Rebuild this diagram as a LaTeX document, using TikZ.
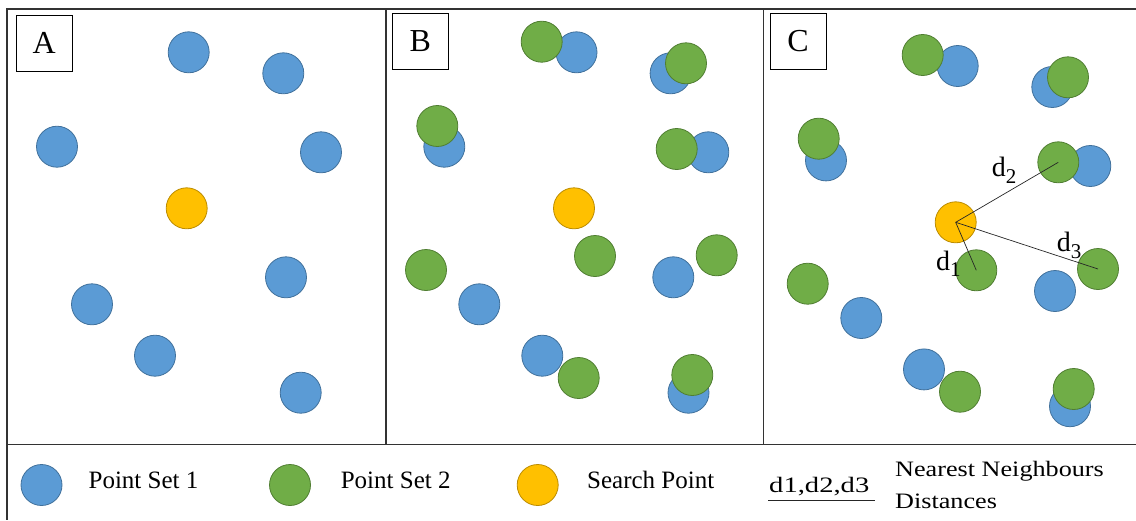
\documentclass[tikz,border=0pt]{standalone}
\usepackage{fontspec}
\setmainfont{Liberation Serif}
\definecolor{bfill}{HTML}{5B9BD5}
\definecolor{bdraw}{HTML}{41719C}
\definecolor{gfill}{HTML}{70AD47}
\definecolor{gdraw}{HTML}{507E32}
\definecolor{yfill}{HTML}{FFC000}
\definecolor{ydraw}{HTML}{BC8C00}
\newcommand{\dsubx}[1]{d\raisebox{-6.5pt}{\fontsize{21}{21}\selectfont #1}}
\begin{document}
\begin{tikzpicture}[x=1pt,y=-1pt,
  pt/.style={circle, minimum size=41pt, inner sep=0pt, line width=0.8pt},
  p1/.style={pt, fill=bfill, draw=bdraw},
  p2/.style={pt, fill=gfill, draw=gdraw},
  sp/.style={pt, fill=yfill, draw=ydraw},
  frame/.style={line width=1.3pt, draw=black!80},
  lbox/.style={draw, line width=0.8pt, minimum size=56pt, inner sep=0pt, font=\fontsize{32}{32}\selectfont},
  dist/.style={line width=0.7pt, draw=black!85},
  dlab/.style={anchor=base west, inner sep=0pt, font=\fontsize{28}{28}\selectfont},
  leg/.style={anchor=base west, inner sep=0pt, font=\fontsize{25}{25}\selectfont},
  legr/.style={anchor=base west, inner sep=0pt, font=\fontsize{22}{22}\selectfont}]
\useasboundingbox (0,0) rectangle (1136,520);
% frame
\draw[frame] (1136,9) -- (7,9) -- (7,520);
\draw[frame] (7,444.5) -- (1136,444.5);
\draw[frame] (386,9) -- (386,444.5);
\draw[frame] (763.5,9) -- (763.5,444.5);
% labels
\node[lbox] (LA) at (44.2,43) {A};
\node[lbox] (LB) at (420.3,41.3) {B};
\node[lbox] (LC) at (798,41.3) {C};
% Panel A
\node[p1] (a1) at (188.7,52.3) {};
\node[p1] (a2) at (283.3,73.3) {};
\node[p1] (a3) at (57,146.7) {};
\node[p1] (a4) at (321,152.3) {};
\node[p1] (a5) at (286,277.3) {};
\node[p1] (a6) at (92,304.3) {};
\node[p1] (a7) at (155,355.7) {};
\node[p1] (a8) at (300.7,392.7) {};
\node[sp] (ay) at (186.7,208.3) {};
% Panel B
\node[p1] (b1) at (576.5,52.3) {};
\node[p1] (b2) at (670.6,73.3) {};
\node[p1] (b3) at (444.3,146.7) {};
\node[p1] (b4) at (708.3,152.3) {};
\node[p1] (b5) at (673.3,277.3) {};
\node[p1] (b6) at (479.3,304.3) {};
\node[p1] (b7) at (542.3,355.7) {};
\node[p1] (b8) at (688.5,392.7) {};
\node[p2] (bg1) at (541.7,41.7) {};
\node[p2] (bg2) at (686,63.3) {};
\node[p2] (bg3) at (437.3,126) {};
\node[p2] (bg4) at (676.7,149) {};
\node[p2] (bg5) at (595,256) {};
\node[p2] (bg6) at (716.7,255.3) {};
\node[p2] (bg7) at (426,270) {};
\node[p2] (bg8) at (578.7,378) {};
\node[p2] (bg9) at (692.3,375) {};
\node[sp] (by) at (574,208.3) {};
% Panel C
\node[p1] (c1) at (957.7,66) {};
\node[p1] (c2) at (1052.3,87) {};
\node[p1] (c3) at (826,160.4) {};
\node[p1] (c4) at (1090.3,166) {};
\node[p1] (c5) at (1055,291) {};
\node[p1] (c6) at (861.3,318) {};
\node[p1] (c7) at (924,369.4) {};
\node[p1] (c8) at (1070,406.2) {};
\node[p2] (cg1) at (922.7,55) {};
\node[p2] (cg2) at (1068,77.3) {};
\node[p2] (cg3) at (818.7,138.7) {};
\node[p2] (cg4) at (1058.3,162.3) {};
\node[p2] (cg5) at (976.3,270.3) {};
\node[p2] (cg6) at (1098,269) {};
\node[p2] (cg7) at (807.7,283.7) {};
\node[p2] (cg8) at (960,391.7) {};
\node[p2] (cg9) at (1073.7,389) {};
\node[sp] (cy) at (955.7,222.3) {};
% distances
\draw[dist] (cy.center) -- (cg5.center);
\draw[dist] (cy.center) -- (cg4.center);
\draw[dist] (cy.center) -- (cg6.center);
\node[dlab] (d1) at (936,270) {\dsubx{1}};
\node[dlab] (d2) at (991.7,176.7) {\dsubx{2}};
\node[dlab] (d3) at (1056.7,251.7) {\dsubx{3}};
% legend
\node[p1] (l1) at (41.5,485) {};
\node[leg] (t1) at (88.4,488.3) {Point Set 1};
\node[p2] (l2) at (290,485) {};
\node[leg] (t2) at (340.6,488.3) {Point Set 2};
\node[sp] (l3) at (537.7,485) {};
\node[leg] (t3) at (587,488.3) {Search Point};
\node[legr] (t4) at (769,492.3) {\scalebox{1.3}[1]{d1,d2,d3}};
\coordinate (u1) at (768.3,500.7);
\coordinate (u2) at (875,500.7);
\draw[line width=0.8pt, black!85] (u1) -- (u2);
\node[legr] (t5) at (895,476.7) {\scalebox{1.19}[1]{Nearest Neighbours}};
\node[legr] (t6) at (895,508.3) {\scalebox{1.19}[1]{Distances}};
\end{tikzpicture}
\end{document}
